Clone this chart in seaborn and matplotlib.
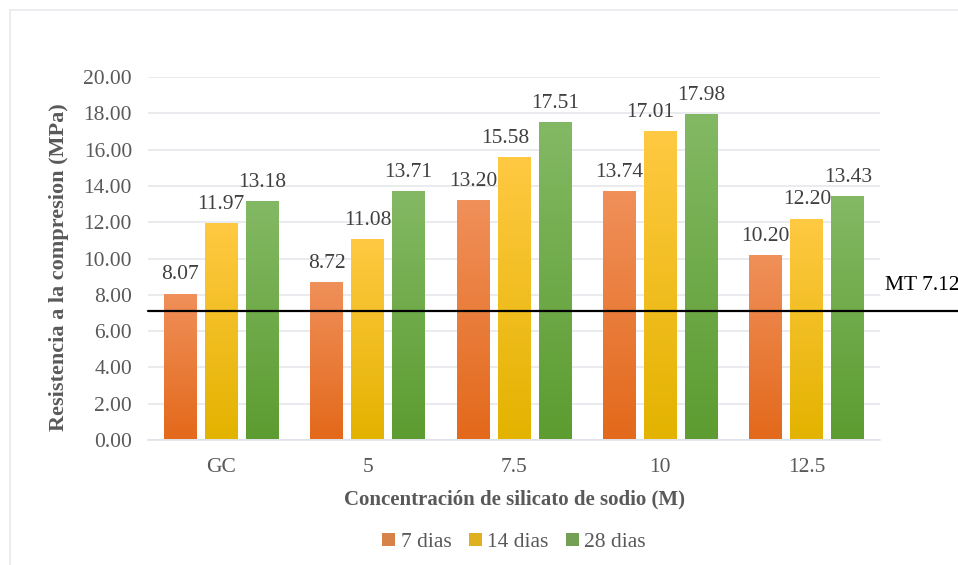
import numpy as np
import pandas as pd
import matplotlib
matplotlib.use("Agg")
import matplotlib.pyplot as plt
import seaborn as sns
from matplotlib.colors import LinearSegmentedColormap
from matplotlib.patches import Rectangle
from matplotlib import font_manager

# Compressive strength by sodium silicate concentration and curing age
categories = ["GC", "5", "7.5", "10", "12.5"]
series = ["7 dias", "14 dias", "28 dias"]
dias_7 = [8.07, 8.72, 13.20, 13.74, 10.20]
dias_14 = [11.97, 11.08, 15.58, 17.01, 12.20]
dias_28 = [13.18, 13.71, 17.51, 17.98, 13.43]
mt_value = 7.12
yticks = [0, 2, 4, 6, 8, 10, 12, 14, 16, 18, 20]

df = pd.DataFrame({
    "conc": categories * 3,
    "serie": [series[0]] * 5 + [series[1]] * 5 + [series[2]] * 5,
    "valor": dias_7 + dias_14 + dias_28,
})

base_colors = ["#ED7D31", "#FFC000", "#70AD47"]
grad_colors = [("#F0905A", "#E3691B"), ("#FFC942", "#E3B300"), ("#83B964", "#5C9C30")]

sns.set_theme(style="white")
serif_names = [f.name for f in font_manager.fontManager.ttflist]
serif = "Liberation Serif" if "Liberation Serif" in serif_names else "DejaVu Serif"
plt.rcParams["font.family"] = "serif"
plt.rcParams["font.serif"] = [serif, "DejaVu Serif"]
text_gray = "#595959"

fig = plt.figure(figsize=(9.58, 5.65), dpi=100)
ax = fig.add_axes([148 / 958, 1 - 440 / 565, 732 / 958, 363 / 565])

sns.barplot(data=df, x="conc", y="valor", hue="serie", order=categories,
            hue_order=series, palette=base_colors, width=0.84, gap=0.2,
            ax=ax, legend=True, linewidth=0)

ax.set_xlim(-0.5, 4.5)
ax.set_ylim(0, 20)
ax.set_yticks(yticks)
ax.set_yticklabels([f"{v:.2f}" for v in yticks])
ax.grid(axis="y", color="#E3E6EB", linewidth=1.1)
ax.set_axisbelow(True)
for s in ["left", "right", "top"]:
    ax.spines[s].set_visible(False)
ax.spines["bottom"].set_color("#DCE1E8")
ax.spines["bottom"].set_linewidth(1.1)
ax.tick_params(axis="both", length=0, labelsize=15.5, colors=text_gray)
ax.tick_params(axis="y", pad=11.5)
ax.tick_params(axis="x", pad=13)
for t in ax.get_xticklabels() + ax.get_yticklabels():
    t.set_fontfamily(serif)

ax.set_xlabel("Concentración de silicato de sodio (M)", fontsize=15,
              fontweight="bold", color=text_gray, labelpad=9, fontfamily=serif)
ax.set_ylabel("Resistencia a la compresion (MPa)", fontsize=16,
              fontweight="bold", color=text_gray, fontfamily=serif)
ax.yaxis.set_label_coords(-0.108, 0.475)

# Vertical gradient inside each bar
grad = np.linspace(0, 1, 256).reshape(-1, 1)
label_shift = {(1, 2): -0.06, (1, 3): -0.07}
for i, container in enumerate(ax.containers):
    cmap = LinearSegmentedColormap.from_list(f"g{i}", [grad_colors[i][1], grad_colors[i][0]])
    values = [dias_7, dias_14, dias_28][i]
    for j, bar in enumerate(container):
        x0, w, h = bar.get_x(), bar.get_width(), bar.get_height()
        bar.set_facecolor("none")
        img = ax.imshow(grad, extent=(x0, x0 + w, 0.08, h), origin="lower",
                        aspect="auto", cmap=cmap, zorder=2, interpolation="bicubic")
        clip = Rectangle((x0, 0.08), w, h - 0.08, transform=ax.transData)
        img.set_clip_path(clip)
        dx = label_shift.get((i, j), 0)
        ax.text(x0 + w / 2 + dx, h + 0.5, f"{values[j]:.2f}", ha="center",
                va="bottom", fontsize=15.5, color="#404040", zorder=4, fontfamily=serif)

# Minimum requirement line
ax.plot([0, 1.107], [mt_value, mt_value], transform=ax.get_yaxis_transform(),
        color="black", linewidth=1.6, clip_on=False, zorder=5)
ax.text(1.007, mt_value + 1.4, f"MT {mt_value:.2f}", transform=ax.get_yaxis_transform(),
        ha="left", va="center", fontsize=15.5, color="black", clip_on=False,
        fontfamily=serif)

ax.legend(loc="upper center", bbox_to_anchor=(0.5, -0.232), ncol=3, frameon=False,
          prop={"family": serif, "size": 15.5}, labelcolor=text_gray,
          handlelength=0.6, handleheight=0.6,
          handletextpad=0.25, columnspacing=0.8, borderaxespad=0)
ax.set_xlim(-0.5, 4.5)

# Chart area border
fig.add_artist(plt.Line2D([10 / 958, 10 / 958], [0, 1 - 10 / 565], color="#E6E9EE",
                          linewidth=1.2, transform=fig.transFigure))
fig.add_artist(plt.Line2D([10 / 958, 1], [1 - 10 / 565, 1 - 10 / 565], color="#E6E9EE",
                          linewidth=1.2, transform=fig.transFigure))

fig.savefig("out.png", dpi=100, facecolor="white")
